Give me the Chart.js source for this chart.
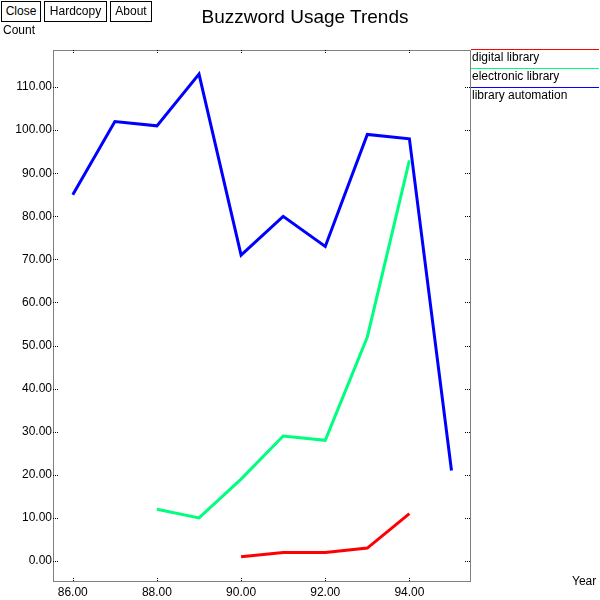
<!DOCTYPE html>
<html>
<head>
<meta charset="utf-8">
<script src="https://cdn.jsdelivr.net/npm/chart.js@4"></script>
<style>
  body { margin: 0; background: #fff; font-family: "Liberation Sans", Arial, sans-serif; }
  #wrap { position: relative; width: 600px; height: 600px; }
  canvas { position: absolute; left: 0; top: 0; }
  .btn { position: absolute; top: 1px; height: 19px; border: 1px solid #000; font-size: 12px; line-height: 19px; text-align: center; background: #fff; }
  .lbl { position: absolute; font-size: 12px; color: #000; }
  #title { position: absolute; top: 6px; left: 0; width: 610px; text-align: center; font-size: 19px; }
  .leg { position: absolute; left: 471px; width: 127px; font-size: 12px; height: 18px; line-height: 15px; padding-left: 1px; }
</style>
</head>
<body>
<div id="wrap">
  <canvas id="chart" width="600" height="600"></canvas>
  <div class="btn" style="left:1px;width:38px">Close</div>
  <div class="btn" style="left:44px;width:61px">Hardcopy</div>
  <div class="btn" style="left:110px;width:40px">About</div>
  <div id="title">Buzzword Usage Trends</div>
  <div class="lbl" style="left:3px;top:23px">Count</div>
  <div class="lbl" style="left:572px;top:574px">Year</div>
  <div id="legend"></div>
</div>
<script>
const seriesNames = ['digital library', 'electronic library', 'library automation'];
const seriesColors = ['#ff0000', '#00ff7f', '#0000ff'];

const digitalYears = [90, 91, 92, 93, 94];
const digitalCounts = [1, 2, 2, 3, 11];

const electronicYears = [88, 89, 90, 91, 92, 93, 94];
const electronicCounts = [12, 10, 19, 29, 28, 52, 93];

const automationYears = [86, 87, 88, 89, 90, 91, 92, 93, 94, 95];
const automationCounts = [85, 102, 101, 113, 71, 80, 73, 99, 98, 21];

const xTicks = [86, 88, 90, 92, 94];
const yTicks = [0, 10, 20, 30, 40, 50, 60, 70, 80, 90, 100, 110];

const pairs = (xs, ys) => xs.map((x, i) => ({ x: x, y: ys[i] }));
const allSeries = [
  pairs(digitalYears, digitalCounts),
  pairs(electronicYears, electronicCounts),
  pairs(automationYears, automationCounts)
];

// legend on the right
const legend = document.getElementById('legend');
seriesNames.forEach((name, i) => {
  const d = document.createElement('div');
  d.className = 'leg';
  d.style.top = (49 + i * 19) + 'px';
  d.style.borderTop = '1px solid ' + seriesColors[i];
  d.textContent = name;
  legend.appendChild(d);
});

// dotted frame with inward ticks on all four sides
const framePlugin = {
  id: 'frame',
  afterDraw(chart) {
    const { ctx, chartArea: a, scales } = chart;
    ctx.save();
    ctx.strokeStyle = '#000';
    ctx.lineWidth = 1;
    ctx.setLineDash([1, 1]);
    ctx.strokeRect(a.left + 0.5, a.top + 0.5, a.right - a.left, a.bottom - a.top);
    ctx.beginPath();
    xTicks.forEach(v => {
      const px = Math.round(scales.x.getPixelForValue(v)) + 0.5;
      ctx.moveTo(px, a.bottom); ctx.lineTo(px, a.bottom - 4);
      ctx.moveTo(px, a.top); ctx.lineTo(px, a.top + 4);
    });
    yTicks.forEach(v => {
      const py = Math.round(scales.y.getPixelForValue(v)) + 0.5;
      ctx.moveTo(a.left, py); ctx.lineTo(a.left + 5, py);
      ctx.moveTo(a.right, py); ctx.lineTo(a.right - 5, py);
    });
    ctx.stroke();
    ctx.restore();
  }
};

new Chart(document.getElementById('chart'), {
  type: 'line',
  data: {
    datasets: allSeries.map((d, i) => ({
      label: seriesNames[i],
      data: d,
      borderColor: seriesColors[i],
      borderWidth: 3,
      pointRadius: 0,
      tension: 0,
      fill: false
    }))
  },
  options: {
    responsive: false,
    animation: false,
    layout: { padding: { left: 0, top: 50, right: 130, bottom: 0 } },
    plugins: { legend: { display: false }, tooltip: { enabled: false } },
    scales: {
      x: {
        type: 'linear',
        min: 85.53,
        max: 95.44,
        afterBuildTicks: s => { s.ticks = xTicks.map(v => ({ value: v })); },
        afterFit: s => { s.height = 19; },
        grid: { display: false, drawTicks: false },
        border: { display: false },
        ticks: {
          color: '#000',
          padding: 4,
          font: { family: 'Liberation Sans', size: 12 },
          maxRotation: 0,
          callback: v => Number(v).toFixed(2)
        }
      },
      y: {
        min: -4.64,
        max: 118.6,
        afterBuildTicks: s => { s.ticks = yTicks.map(v => ({ value: v })); },
        afterFit: s => { s.width = 53; },
        grid: { display: false, drawTicks: false },
        border: { display: false },
        ticks: {
          color: '#000',
          padding: 1,
          font: { family: 'Liberation Sans', size: 12 },
          callback: v => Number(v).toFixed(2)
        }
      }
    }
  },
  plugins: [framePlugin]
});
</script>
</body>
</html>
